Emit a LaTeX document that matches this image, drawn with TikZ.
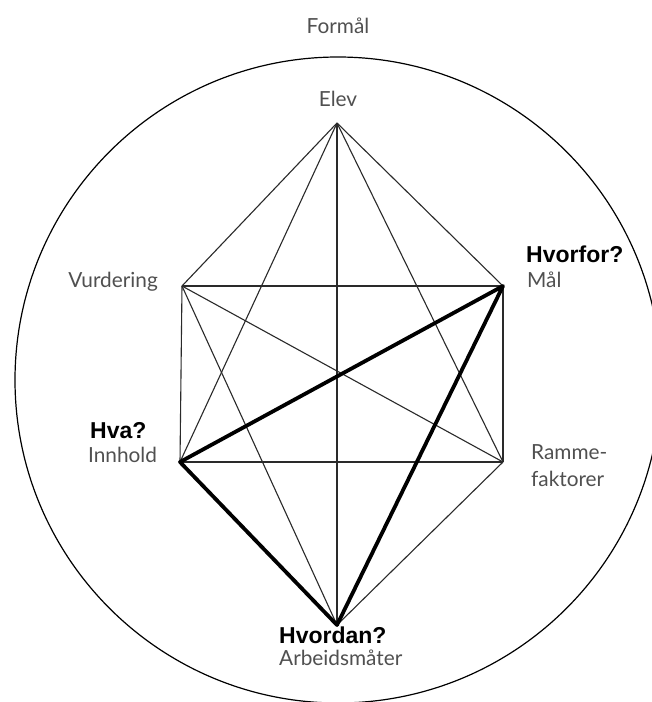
\documentclass[tikz,border=0pt]{standalone}
\usepackage{fontspec}
\setmainfont{Lato}
\newfontfamily\arialfont{Liberation Sans}
\definecolor{labelgray}{HTML}{505050}
\definecolor{linegray}{HTML}{2A2A2A}
\begin{document}
\begin{tikzpicture}[x=1pt,y=-1pt,
  thinline/.style={draw=linegray,line width=1.1pt},
  thickline/.style={draw=black,line width=3.8pt,line cap=round,line join=round},
  lbl/.style={font=\fontsize{20.8}{24}\selectfont,text=labelgray,inner sep=0pt},
  qlbl/.style={font=\arialfont\bfseries\fontsize{23}{27}\selectfont,text=black,inner sep=0pt}]
\useasboundingbox (0,0) rectangle (652,702);
\fill[white] (0,0) rectangle (652,702);
\node[circle,draw=black,line width=1.2pt,minimum size=646pt,inner sep=0pt] (circ) at (338,380) {};
\coordinate (E) at (337,123);
\coordinate (V) at (182,286);
\coordinate (M) at (503,286);
\coordinate (I) at (180,462);
\coordinate (R) at (503,462);
\coordinate (A) at (337,625);
% thin lines
\foreach \a/\b in {E/V,E/M,E/I,E/R,E/A,V/M,V/I,V/R,V/A,M/R,I/R,R/A}
  \draw[thinline] (\a) -- (\b);
% thick lines
\draw[thickline] (M) -- (I) -- (A) -- cycle;
% labels
\node[lbl,anchor=base] (formal) at (338,33) {Formål};
\node[lbl,anchor=base] (elev) at (338,106) {Elev};
\node[lbl,anchor=base east] (vurd) at (158,287) {Vurdering};
\node[qlbl,anchor=base west] (hvorfor) at (526,262) {Hvorfor?};
\node[lbl,anchor=base west] (mal) at (527,287) {Mål};
\node[qlbl,anchor=base west] (hva) at (90,438) {Hva?};
\node[lbl,anchor=base west] (innhold) at (88,462) {Innhold};
\node[lbl,anchor=base west] (ramme) at (531,459) {Ramme-};
\node[lbl,anchor=base west] (faktorer) at (531,486) {faktorer};
\node[qlbl,anchor=base west] (hvordan) at (279,643) {Hvordan?};
\node[lbl,anchor=base west] (arbeid) at (279,665) {Arbeidsmåter};
\end{tikzpicture}
\end{document}
